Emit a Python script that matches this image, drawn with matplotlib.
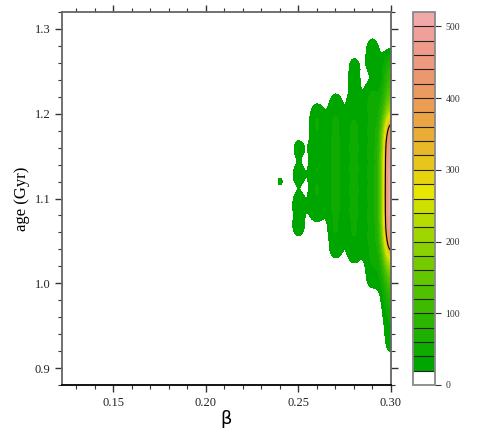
import numpy as np
import matplotlib
matplotlib.use('Agg')
import matplotlib.pyplot as plt
import colorsys

plt.rcParams['font.family'] = 'serif'
plt.rcParams['font.serif'] = ['Liberation Serif', 'DejaVu Serif']

# density samples: one column per beta value
col_beta = [0.24, 0.25, 0.26, 0.27, 0.28, 0.29, 0.30]

ages_024 = [1.120]
wts_024 = [20.8]

ages_025 = [1.160, 1.128, 1.094, 1.066]
wts_025 = [24.5, 25.5, 28, 28]

ages_026 = [1.085, 1.110, 1.135, 1.160, 1.185, 1.203]
wts_026 = [32, 33, 32, 31, 30, 22]

ages_027 = [1.040, 1.065, 1.090, 1.115, 1.140, 1.165, 1.190, 1.215]
wts_027 = [27, 34, 38, 38, 38, 38, 36, 24]

ages_028 = [1.034, 1.060, 1.085, 1.110, 1.135, 1.160, 1.185, 1.210, 1.235, 1.258]
wts_028 = [27, 34, 38, 38, 38, 38, 36, 26, 22, 22]

ages_029 = [1.005, 1.030, 1.055, 1.080, 1.105, 1.130, 1.155, 1.180, 1.205, 1.225, 1.258, 1.280]
wts_029 = [27, 34, 40, 40, 40, 40, 40, 40, 38, 30, 24, 24]

ages_030 = [0.925, 0.945, 0.965, 0.985, 1.005, 1.025, 1.045, 1.065, 1.085, 1.105,
            1.125, 1.145, 1.165, 1.185, 1.205, 1.225, 1.245, 1.262]
wts_030 = [20, 22, 32, 55, 85, 150, 260, 330, 340, 345,
           340, 335, 320, 240, 130, 85, 60, 38]

col_ages = [ages_024, ages_025, ages_026, ages_027, ages_028, ages_029, ages_030]
col_wts = [wts_024, wts_025, wts_026, wts_027, wts_028, wts_029, wts_030]

levels = np.arange(0, 540, 20)
black_level = 340
bw_beta = 0.0033
bw_age = 0.012

# band colours: white, then green -> yellow -> salmon
band_colors = ['#ffffff']
for i in range(13):
    t = i / 12
    r, g, b = colorsys.hsv_to_rgb((120 - 60 * t) / 360, 1.0, 0.65 + 0.25 * t)
    band_colors.append((r, g, b))
for i in range(1, 13):
    t = i / 12
    r, g, b = colorsys.hsv_to_rgb((60 - 60 * t) / 360, 1.0 - 0.7 * t, 0.90 + 0.04 * t)
    band_colors.append((r, g, b))

bb = np.linspace(0.1224, 0.30, 500)
aa = np.linspace(0.88, 1.32, 600)
B, A = np.meshgrid(bb, aa)
Z = np.zeros_like(B)
for beta, ages, wts in zip(col_beta, col_ages, col_wts):
    for age, w in zip(ages, wts):
        Z += w * np.exp(-0.5 * ((B - beta) / bw_beta) ** 2 - 0.5 * ((A - age) / bw_age) ** 2)
Z = np.clip(Z, 0, 519.9)

fig = plt.figure(figsize=(4.97, 4.42), dpi=100)
ax = fig.add_axes([62 / 497, 57 / 442, 329 / 497, 373 / 442])
cax = fig.add_axes([413 / 497, 57 / 442, 22 / 497, 373 / 442])

for x in np.arange(0.13, 0.3, 0.01):
    ax.axvline(x, color='#d8d8d8', linestyle=':', linewidth=0.7, zorder=0)

cf = ax.contourf(B, A, Z, levels=levels, colors=band_colors, zorder=1)
ax.contour(B, A, Z, levels=[black_level], colors='black', linewidths=0.8, zorder=2)

ax.set_xlim(0.1224, 0.30)
ax.set_ylim(0.88, 1.32)
ax.set_xticks([0.15, 0.20, 0.25, 0.30])
ax.set_xticklabels(['0.15', '0.20', '0.25', '0.30'])
ax.set_xticks(np.arange(0.13, 0.301, 0.01), minor=True)
ax.set_yticks([0.9, 1.0, 1.1, 1.2, 1.3])
ax.set_yticklabels(['0.9', '1.0', '1.1', '1.2', '1.3'])
ax.set_yticks(np.arange(0.88, 1.321, 0.02), minor=True)
ax.tick_params(which='both', direction='out', top=True, right=True, labelsize=9,
               colors='#333333', labelcolor='#222222')
ax.tick_params(which='major', length=5, width=1)
ax.tick_params(which='minor', length=3, width=0.8)
for side in ['left', 'top', 'right']:
    ax.spines[side].set_color('#666666')
    ax.spines[side].set_linewidth(1.3)
ax.spines['bottom'].set_color('black')
ax.spines['bottom'].set_linewidth(1.3)

ax.set_xlabel('β', family='DejaVu Sans', fontsize=13, labelpad=1)
ax.set_ylabel('age (Gyr)', fontsize=12, labelpad=3)

cbar = fig.colorbar(cf, cax=cax, ticks=[0, 100, 200, 300, 400, 500])
cbar.outline.set_edgecolor('#888888')
cbar.outline.set_linewidth(1.3)
cax.hlines(levels[1:-1], 0, 1, colors='#222222', linewidth=0.8)
cax.tick_params(direction='out', length=4, width=0.8, labelsize=7, colors='#333333')

fig.savefig('out.png', dpi=100)
